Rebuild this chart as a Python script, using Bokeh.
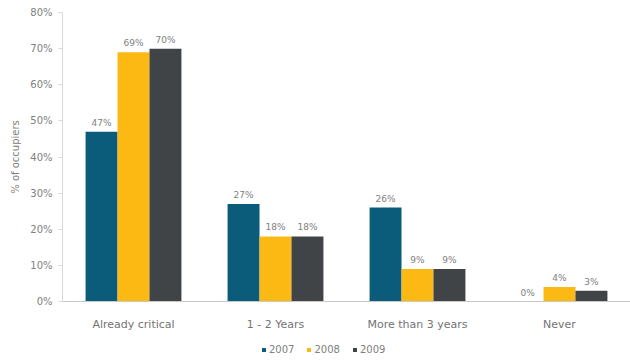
from bokeh.plotting import figure
from bokeh.layouts import column
from bokeh.core.properties import value
from bokeh.models import (ColumnDataSource, FactorRange, LabelSet, Legend, LegendItem,
                          FixedTicker, PrintfTickFormatter, Range1d)
from bokeh.transform import dodge
from bokeh.embed import file_html
from bokeh.resources import INLINE

categories = ["Already critical", "1 - 2 Years", "More than 3 years", "Never"]
years = ["2007", "2008", "2009"]
v2007 = [47, 27, 26, 0]
v2008 = [69, 18, 9, 4]
v2009 = [70, 18, 9, 3]
colors = ["#0b5c7b", "#fdb913", "#414447"]
y_ticks = [0, 10, 20, 30, 40, 50, 60, 70, 80]

FONT = "DejaVu Sans"
TXT = "#808080"

src = ColumnDataSource(dict(
    cat=categories, v2007=v2007, v2008=v2008, v2009=v2009,
    l2007=[f"{v}%" for v in v2007],
    l2008=[f"{v}%" for v in v2008],
    l2009=[f"{v}%" for v in v2009],
))

xr = FactorRange(*categories, range_padding=0)
p = figure(x_range=xr, y_range=(0, 80),
           width=630, height=333, output_backend="svg", toolbar_location=None,
           min_border_left=62, min_border_right=0, min_border_top=12, min_border_bottom=30)
p.outline_line_color = None
p.xgrid.grid_line_color = None
p.ygrid.grid_line_color = None

offsets = [-0.225, 0.0, 0.225]
for yr, col, off in zip(years, colors, offsets):
    p.vbar(x=dodge("cat", off, range=xr), top="v" + yr, width=0.225,
           source=src, fill_color=col, line_color=None)
    lbl = LabelSet(x=dodge("cat", off, range=xr), y="v" + yr, text="l" + yr,
                   source=src, text_align="center", text_baseline="bottom", y_offset=4,
                   text_font=value(FONT), text_font_size="9px", text_color=TXT)
    p.add_layout(lbl)

p.yaxis.ticker = FixedTicker(ticks=y_ticks)
p.yaxis.formatter = PrintfTickFormatter(format="%d%%")
p.yaxis.axis_label = "% of occupiers"
p.yaxis.axis_label_text_font = FONT
p.yaxis.axis_label_text_font_style = "normal"
p.yaxis.axis_label_text_font_size = "10px"
p.yaxis.axis_label_text_color = TXT
p.yaxis.axis_label_standoff = 6
p.yaxis.major_label_text_font = FONT
p.yaxis.major_label_text_font_size = "10px"
p.yaxis.major_label_text_color = TXT
p.yaxis.axis_line_color = "#d9d9d9"
p.yaxis.major_tick_line_color = "#d9d9d9"
p.yaxis.major_tick_out = 4
p.yaxis.major_tick_in = 0
p.yaxis.minor_tick_line_color = None
p.yaxis.major_label_standoff = 6

p.xaxis.axis_line_color = "#c8c8c8"
p.xaxis.major_tick_line_color = None
p.xaxis.minor_tick_line_color = None
p.xaxis.major_label_text_font = FONT
p.xaxis.major_label_text_font_size = "11px"
p.xaxis.major_label_text_color = "#737373"
p.xaxis.major_label_standoff = 10

# legend strip below the chart (bars out of view; only legend glyphs show)
lg = figure(width=630, height=27, x_range=xr, y_range=Range1d(100, 101),
            output_backend="svg", toolbar_location=None,
            min_border_left=0, min_border_right=0, min_border_top=0, min_border_bottom=0)
lg.axis.visible = False
lg.grid.visible = False
lg.outline_line_color = None
items = []
for yr, col, off in zip(years, colors, offsets):
    r = lg.vbar(x=dodge("cat", off, range=xr), top="v" + yr, width=0.225,
                source=src, fill_color=col, line_color=None)
    items.append(LegendItem(label=yr, renderers=[r]))
legend = Legend(items=items, orientation="horizontal", location=(199, 5),
                label_text_font=FONT, label_text_font_size="10px", label_text_color=TXT,
                glyph_width=5, glyph_height=5, label_standoff=3, spacing=12,
                border_line_color=None, background_fill_alpha=0,
                padding=2, margin=0, label_height=10)
lg.add_layout(legend, "center")

layout = column(p, lg, spacing=0)
open("out.html", "w").write(file_html(layout, INLINE))
